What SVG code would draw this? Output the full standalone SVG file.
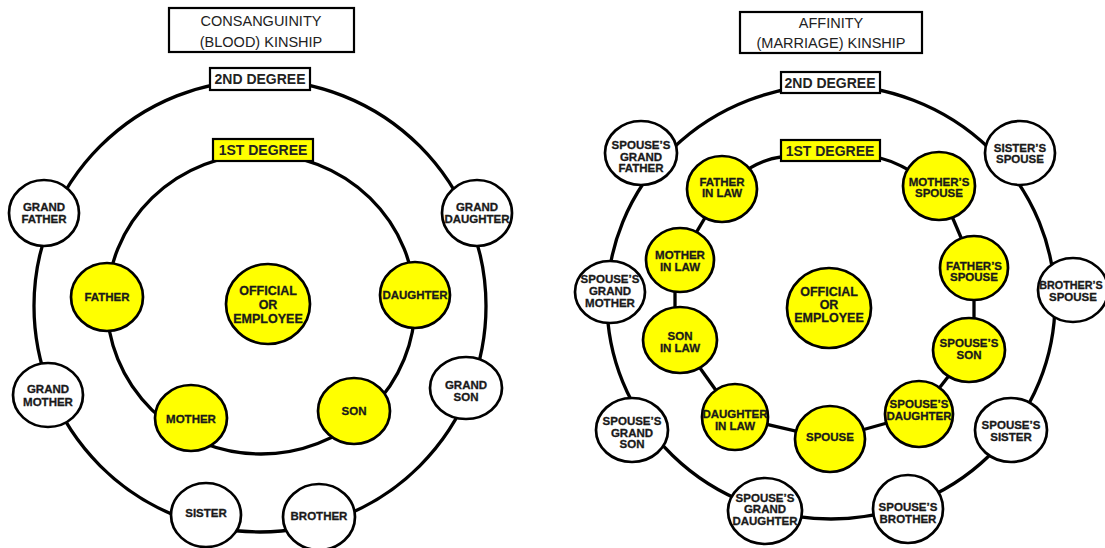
<svg xmlns="http://www.w3.org/2000/svg" width="1105" height="548" viewBox="0 0 1105 548">
<style>
.ring{fill:none;stroke:#000;stroke-width:3.3}
.w{fill:#fff;stroke:#000;stroke-width:2.7}
.y{fill:#ffff00;stroke:#000;stroke-width:2.7}
.t{font-family:"Liberation Sans",Arial,sans-serif;font-weight:bold;font-size:11.5px;fill:#1a1a1a;stroke:#1a1a1a;stroke-width:0.3;text-anchor:middle}
.big{font-size:12.5px}
.sm{font-size:10.8px}
.title{font-family:"Liberation Sans",Arial,sans-serif;font-size:14.5px;fill:#222;text-anchor:middle}
.deg{font-family:"Liberation Sans",Arial,sans-serif;font-weight:bold;font-size:14px;fill:#222;text-anchor:middle}
.box{fill:#fff;stroke:#000;stroke-width:2.2}
.ybox{fill:#ffff00;stroke:#000;stroke-width:2.2}
</style>
<rect width="1105" height="548" fill="#fff"/>

<g id="connectors">
  <circle class="ring" cx="260" cy="306" r="226"/>
  <ellipse class="ring" cx="261" cy="304" rx="154" ry="150"/>
  <ellipse class="ring" cx="831" cy="302" rx="224" ry="217"/>
  <path class="ring" d="M781,157 Q760,159 735,178"/>
  <path class="ring" d="M880,158 Q900,163 925,180"/>
  <path class="ring" d="M722,189 L680,260"/>
  <path class="ring" d="M675,260 L675,340"/>
  <path class="ring" d="M680,340 L735,417"/>
  <path class="ring" d="M735,417 L830,439"/>
  <path class="ring" d="M830,439 L919,414"/>
  <path class="ring" d="M919,414 L969,350"/>
  <path class="ring" d="M974,350 L974,268"/>
  <path class="ring" d="M974,268 L939,186"/>
</g>

<g id="title-left">
  <rect class="box" x="169" y="8" width="185" height="44"/>
  <text class="title" x="261" y="26">CONSANGUINITY</text>
  <text class="title" x="261" y="47">(BLOOD) KINSHIP</text>
</g>
<g id="title-right">
  <rect class="box" x="740" y="12" width="182" height="41"/>
  <text class="title" x="831" y="28">AFFINITY</text>
  <text class="title" x="831" y="48">(MARRIAGE) KINSHIP</text>
</g>

<g id="deg2-left"><rect class="box" x="210" y="68" width="100" height="22"/><text class="deg" x="260" y="84">2ND DEGREE</text></g>
<g id="deg1-left"><rect class="ybox" x="213" y="139" width="100" height="22"/><text class="deg" x="263" y="155">1ST DEGREE</text></g>
<g id="deg2-right"><rect class="box" x="781" y="72" width="99" height="21"/><text class="deg" x="830" y="88">2ND DEGREE</text></g>
<g id="deg1-right"><rect class="ybox" x="781" y="140" width="99" height="21"/><text class="deg" x="830" y="156">1ST DEGREE</text></g>

<g id="l-grandfather"><ellipse class="w" cx="44" cy="213" rx="35" ry="33"/><text class="t" x="44" y="211">GRAND</text><text class="t" x="44" y="223">FATHER</text></g>
<g id="l-granddaughter"><ellipse class="w" cx="477" cy="213" rx="35" ry="33"/><text class="t" x="477" y="211">GRAND</text><text class="t" x="477" y="223">DAUGHTER</text></g>
<g id="l-grandmother"><ellipse class="w" cx="48" cy="395" rx="35" ry="32"/><text class="t" x="48" y="393">GRAND</text><text class="t" x="48" y="406">MOTHER</text></g>
<g id="l-grandson"><ellipse class="w" cx="466" cy="388" rx="36" ry="31"/><text class="t" x="466" y="389">GRAND</text><text class="t" x="466" y="401">SON</text></g>
<g id="l-sister"><ellipse class="w" cx="206" cy="515" rx="35" ry="32"/><text class="t" x="206" y="517">SISTER</text></g>
<g id="l-brother"><ellipse class="w" cx="319" cy="517" rx="36" ry="33"/><text class="t" x="319" y="520">BROTHER</text></g>
<g id="l-father"><ellipse class="y" cx="107" cy="297" rx="36" ry="34"/><text class="t" x="107" y="301">FATHER</text></g>
<g id="l-daughter"><ellipse class="y" cx="415" cy="295" rx="35" ry="33"/><text class="t" x="415" y="299">DAUGHTER</text></g>
<g id="l-mother"><ellipse class="y" cx="191" cy="418" rx="36" ry="33"/><text class="t" x="191" y="423">MOTHER</text></g>
<g id="l-son"><ellipse class="y" cx="354" cy="411" rx="36" ry="33"/><text class="t" x="354" y="415">SON</text></g>
<g id="l-official"><ellipse class="y" cx="268" cy="304" rx="42" ry="40"/><text class="t big" x="268" y="295">OFFICIAL</text><text class="t big" x="268" y="309">OR</text><text class="t big" x="268" y="323">EMPLOYEE</text></g>

<g id="r-sgf"><ellipse class="w" cx="641" cy="153" rx="36" ry="32"/><text class="t" x="641" y="149">SPOUSE’S</text><text class="t" x="641" y="161">GRAND</text><text class="t" x="641" y="172">FATHER</text></g>
<g id="r-sisters-spouse"><ellipse class="w" cx="1020" cy="153" rx="35" ry="32"/><text class="t" x="1020" y="152">SISTER’S</text><text class="t" x="1020" y="163">SPOUSE</text></g>
<g id="r-sgm"><ellipse class="w" cx="610" cy="292" rx="35" ry="31"/><text class="t" x="610" y="283">SPOUSE’S</text><text class="t" x="610" y="295">GRAND</text><text class="t" x="610" y="307">MOTHER</text></g>
<g id="r-brothers-spouse"><ellipse class="w" cx="1073" cy="290" rx="35" ry="32"/><text class="t sm" x="1071" y="289">BROTHER’S</text><text class="t" x="1073" y="301">SPOUSE</text></g>
<g id="r-sgs"><ellipse class="w" cx="632" cy="430" rx="36" ry="32"/><text class="t" x="632" y="425">SPOUSE’S</text><text class="t" x="632" y="437">GRAND</text><text class="t" x="632" y="448">SON</text></g>
<g id="r-spouses-sister"><ellipse class="w" cx="1011" cy="430" rx="36" ry="32"/><text class="t" x="1011" y="429">SPOUSE’S</text><text class="t" x="1011" y="441">SISTER</text></g>
<g id="r-sgd"><ellipse class="w" cx="765" cy="511" rx="37" ry="33"/><text class="t" x="765" y="502">SPOUSE’S</text><text class="t" x="765" y="513">GRAND</text><text class="t" x="765" y="525">DAUGHTER</text></g>
<g id="r-spouses-brother"><ellipse class="w" cx="908" cy="509" rx="35" ry="34"/><text class="t" x="908" y="511">SPOUSE’S</text><text class="t" x="908" y="523">BROTHER</text></g>

<g id="r-fil"><ellipse class="y" cx="722" cy="189" rx="35" ry="33"/><text class="t" x="722" y="186">FATHER</text><text class="t" x="722" y="197">IN LAW</text></g>
<g id="r-mothers-spouse"><ellipse class="y" cx="939" cy="186" rx="36" ry="34"/><text class="t" x="939" y="186">MOTHER’S</text><text class="t" x="939" y="197">SPOUSE</text></g>
<g id="r-mil"><ellipse class="y" cx="680" cy="260" rx="34" ry="32"/><text class="t" x="680" y="259">MOTHER</text><text class="t" x="680" y="271">IN LAW</text></g>
<g id="r-fathers-spouse"><ellipse class="y" cx="974" cy="268" rx="34" ry="32"/><text class="t" x="974" y="270">FATHER’S</text><text class="t" x="974" y="281">SPOUSE</text></g>
<g id="r-sil"><ellipse class="y" cx="680" cy="340" rx="37" ry="33"/><text class="t" x="680" y="340">SON</text><text class="t" x="680" y="352">IN LAW</text></g>
<g id="r-spouses-son"><ellipse class="y" cx="969" cy="350" rx="36" ry="32"/><text class="t" x="969" y="347">SPOUSE’S</text><text class="t" x="969" y="359">SON</text></g>
<g id="r-dil"><ellipse class="y" cx="735" cy="417" rx="33" ry="33"/><text class="t" x="735" y="418">DAUGHTER</text><text class="t" x="735" y="430">IN LAW</text></g>
<g id="r-spouse"><ellipse class="y" cx="830" cy="439" rx="35" ry="33"/><text class="t" x="830" y="441">SPOUSE</text></g>
<g id="r-spouses-daughter"><ellipse class="y" cx="919" cy="414" rx="34" ry="33"/><text class="t" x="919" y="408">SPOUSE’S</text><text class="t" x="919" y="420">DAUGHTER</text></g>
<g id="r-official"><ellipse class="y" cx="829" cy="308" rx="42" ry="40"/><text class="t big" x="829" y="296">OFFICIAL</text><text class="t big" x="829" y="309">OR</text><text class="t big" x="829" y="322">EMPLOYEE</text></g>
</svg>
